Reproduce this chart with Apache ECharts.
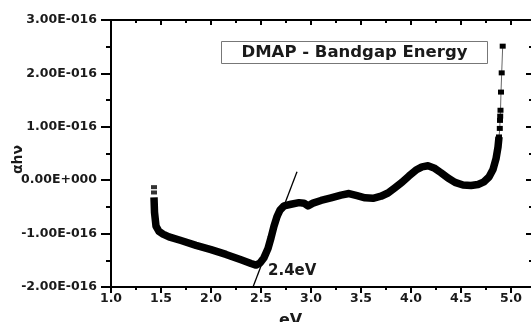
<!DOCTYPE html>
<html>
<head>
<meta charset="utf-8">
<script src="https://cdn.jsdelivr.net/npm/echarts@6/dist/echarts.min.js"></script>
<style>
  html, body { margin: 0; padding: 0; background: #fff; }
  #chart { width: 531px; height: 322px; }
</style>
</head>
<body>
<div id="chart"></div>
<script>
// energy (eV) vs αhν, values in units of 1e-16
const mainCurve = [
  [1.43, -0.32], [1.435, -0.60], [1.45, -0.86], [1.48, -0.96], [1.52, -1.01],
  [1.58, -1.06], [1.70, -1.13], [1.85, -1.22], [2.00, -1.30], [2.15, -1.39],
  [2.30, -1.49], [2.40, -1.56], [2.45, -1.59], [2.49, -1.55], [2.53, -1.45],
  [2.57, -1.28], [2.60, -1.08], [2.63, -0.86], [2.66, -0.68], [2.69, -0.56],
  [2.73, -0.48], [2.80, -0.45], [2.88, -0.42], [2.93, -0.43], [2.97, -0.48],
  [3.02, -0.43], [3.10, -0.38], [3.20, -0.33], [3.30, -0.28], [3.38, -0.25],
  [3.46, -0.29], [3.54, -0.33], [3.62, -0.34], [3.70, -0.30], [3.77, -0.24],
  [3.84, -0.14], [3.91, -0.04], [3.98, 0.08], [4.05, 0.19], [4.11, 0.25],
  [4.17, 0.27], [4.23, 0.23], [4.30, 0.14], [4.37, 0.04], [4.44, -0.04],
  [4.52, -0.09], [4.60, -0.10], [4.67, -0.08], [4.73, -0.03], [4.78, 0.06],
  [4.82, 0.20], [4.85, 0.40], [4.87, 0.62], [4.88, 0.81]
];
const headPoints = [[1.43, -0.13], [1.43, -0.23]];
const tailPoints = [
  [4.88, 0.81], [4.888, 0.97], [4.89, 1.12], [4.892, 1.20], [4.895, 1.31],
  [4.90, 1.65], [4.907, 2.01], [4.917, 2.51]
];
const tangentLine = [[2.42, -2.0], [2.86, 0.16]];
const xTicks = [1.0, 1.5, 2.0, 2.5, 3.0, 3.5, 4.0, 4.5, 5.0];
const yTicks = [-2, -1, 0, 1, 2, 3];
const gapLabel = '2.4eV';
const gapLabelAt = [2.57, -1.70];
const chartTitle = 'DMAP - Bandgap Energy';

const FONT = 'DejaVu Sans';
const INK = '#1a1a1a';

function sciLabel(v) {
  if (v === 0) return '0.00E+000';
  return (v < 0 ? '-' : '') + Math.abs(v).toFixed(2) + 'E-016';
}

const chart = echarts.init(document.getElementById('chart'));

const axisLine = { show: true, onZero: false, lineStyle: { color: '#000', width: 2 } };

const option = {
  animation: false,
  grid: { left: 111, top: 20, width: 425, height: 267, outerBoundsMode: 'none', containLabel: false },
  xAxis: [
    {
      type: 'value', min: 1, max: 5.25, interval: 0.5, position: 'bottom',
      axisLine: axisLine,
      axisTick: { show: true, length: 6, lineStyle: { color: '#000', width: 2 } },
      minorTick: { show: true, splitNumber: 2, length: 3, lineStyle: { color: '#000', width: 2 } },
      splitLine: { show: false },
      axisLabel: {
        margin: 5, color: INK, fontFamily: FONT, fontWeight: 'bold', fontSize: 12.5,
        formatter: v => xTicks.some(t => Math.abs(t - v) < 1e-6) ? v.toFixed(1) : ''
      },
      name: 'eV', nameLocation: 'middle', nameGap: 26,
      nameTextStyle: { color: INK, fontFamily: FONT, fontWeight: 'bold', fontSize: 16, padding: [0, 66, 0, 0] }
    },
    {
      type: 'value', min: 1, max: 5.25, interval: 0.5, position: 'top',
      axisLine: axisLine,
      axisTick: { show: true, inside: true, length: 5, lineStyle: { color: '#000', width: 2 } },
      minorTick: { show: true, splitNumber: 2, length: 3, lineStyle: { color: '#000', width: 2 } },
      splitLine: { show: false },
      axisLabel: { show: false }
    }
  ],
  yAxis: [
    {
      type: 'value', min: -2, max: 3, interval: 1, position: 'left',
      axisLine: axisLine,
      axisTick: { show: true, length: 10, lineStyle: { color: '#000', width: 2 } },
      minorTick: { show: true, splitNumber: 2, length: 5, lineStyle: { color: '#000', width: 2 } },
      splitLine: { show: false },
      axisLabel: {
        margin: 14, color: INK, fontFamily: FONT, fontWeight: 'bold', fontSize: 12.5,
        formatter: v => yTicks.indexOf(v) >= 0 ? sciLabel(v) : ''
      },
      name: 'αhν', nameLocation: 'middle', nameRotate: 90, nameGap: 86, nameMoveOverlap: false,
      nameTextStyle: { color: INK, fontFamily: FONT, fontWeight: 'bold', fontSize: 14, padding: [0, 12, 0, 0] }
    },
    {
      type: 'value', min: -2, max: 3, interval: 1, position: 'right', offset: -4,
      axisLine: axisLine,
      axisTick: { show: true, inside: true, length: 6, lineStyle: { color: '#000', width: 2 } },
      minorTick: { show: true, splitNumber: 2, length: 3, lineStyle: { color: '#000', width: 2 } },
      splitLine: { show: false },
      axisLabel: { show: false }
    }
  ],
  series: [
    {
      type: 'line', data: tangentLine, symbol: 'none', silent: true,
      lineStyle: { color: '#000', width: 1.3 }
    },
    {
      type: 'line', data: tailPoints, symbol: 'rect', symbolSize: [6, 5], showSymbol: true,
      itemStyle: { color: '#000' }, lineStyle: { color: '#666', width: 1 }
    },
    {
      type: 'scatter', data: headPoints, symbol: 'rect', symbolSize: [6, 4],
      itemStyle: { color: '#000' }
    },
    {
      type: 'line', data: mainCurve, symbol: 'none',
      lineStyle: { color: '#000', width: 7.5, join: 'round' }
    }
  ]
};

chart.setOption(option);

const lp = chart.convertToPixel({ gridIndex: 0 }, gapLabelAt);
chart.setOption({
  graphic: [
    {
      type: 'text', x: lp[0], y: lp[1],
      style: { text: gapLabel, fill: INK, font: 'bold 15px "' + FONT + '"', textAlign: 'left', textVerticalAlign: 'middle' }
    },
    {
      type: 'group', left: 221, top: 41,
      children: [
        { type: 'rect', shape: { x: 0.5, y: 0.5, width: 266, height: 22 }, style: { fill: '#fff', stroke: '#777', lineWidth: 1 } },
        {
          type: 'text', x: 133.5, y: 12,
          style: { text: chartTitle, fill: INK, font: 'bold 16.5px "' + FONT + '"', textAlign: 'center', textVerticalAlign: 'middle' }
        }
      ]
    }
  ]
});
</script>
</body>
</html>
